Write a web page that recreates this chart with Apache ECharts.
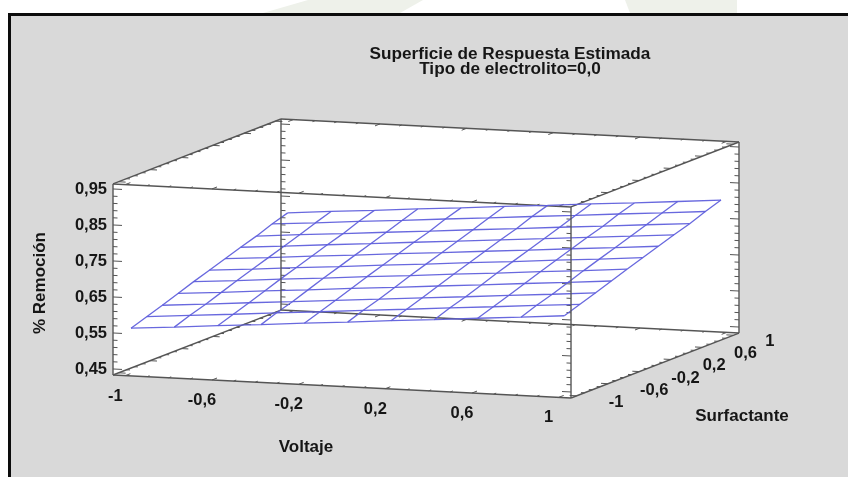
<!DOCTYPE html>
<html>
<head>
<meta charset="utf-8">
<style>html,body{margin:0;padding:0;background:#fff}#c{width:848px;height:477px}</style>
<script src="https://cdn.jsdelivr.net/npm/echarts@6/dist/echarts.min.js"></script>
</head>
<body>
<div id="c"></div>
<script>
// ---- data ----
const voltaje = [-1,-0.8,-0.6,-0.4,-0.2,0,0.2,0.4,0.6,0.8,1];
const surfactante = [-1,-0.8,-0.6,-0.4,-0.2,0,0.2,0.4,0.6,0.8,1];
// one row per surfactante value, one column per voltaje value
const remocion = [
  [.559,.568,.578,.587,.597,.606,.616,.625,.635,.644,.654],
  [.574,.584,.593,.603,.612,.622,.631,.641,.650,.660,.669],
  [.589,.598,.608,.617,.627,.636,.646,.655,.665,.674,.684],
  [.605,.614,.624,.633,.643,.652,.662,.671,.681,.690,.700],
  [.621,.630,.640,.649,.659,.668,.678,.687,.697,.706,.716],
  [.636,.645,.655,.664,.674,.683,.693,.702,.712,.721,.731],
  [.651,.660,.670,.679,.689,.698,.708,.717,.727,.736,.746],
  [.666,.675,.685,.694,.704,.713,.723,.732,.742,.751,.761],
  [.680,.690,.699,.709,.718,.728,.737,.747,.756,.766,.775],
  [.697,.706,.716,.725,.735,.744,.754,.763,.773,.782,.792],
  [.711,.721,.730,.740,.749,.759,.768,.778,.787,.797,.807]
];
const vTickLabels = ['-1','-0,6','-0,2','0,2','0,6','1'];
const vTickValues = [-1,-0.6,-0.2,0.2,0.6,1];
const sTickLabels = ['-1','-0,6','-0,2','0,2','0,6','1'];
const sTickValues = [-1,-0.6,-0.2,0.2,0.6,1];
const zTickLabels = ['0,45','0,55','0,65','0,75','0,85','0,95'];
const zTickValues = [0.45,0.55,0.65,0.75,0.85,0.95];
const vRange = [-1.057,1.057];
const sRange = [-1.072,1.072];
const zRange = [0.4333,0.9640];

// ---- oblique projection onto the library's 2D value axes ----
const SKEW_S = 78.35/216.65, DROP_V = 10.88/360, RISE_S = 30.3/360;
const proj = (v,s,z) => [v + SKEW_S*s, z - DROP_V*v + RISE_S*s];

const FONT = '"Liberation Sans", Arial, sans-serif';
const INK = '#161616', EDGE = '#555555', MESH = '#6060dc';
const [v0,v1] = vRange, [s0,s1] = sRange, [z0,z1] = zRange;
const seg = (a,b) => [...proj(...a),...proj(...b)];

function segSeries(segs,color,width,z){
  return {type:'custom',coordinateSystem:'cartesian2d',silent:true,animation:false,z,clip:false,
    encode:{x:[0,2],y:[1,3]},data:segs,
    renderItem:(p,api)=>{
      const a=api.coord([api.value(0),api.value(1)]),b=api.coord([api.value(2),api.value(3)]);
      return {type:'line',shape:{x1:a[0],y1:a[1],x2:b[0],y2:b[1]},style:{stroke:color,lineWidth:width}};
    }};
}
function wall(corners){
  return {type:'custom',coordinateSystem:'cartesian2d',silent:true,animation:false,z:1,clip:false,
    data:[[0,0]],
    renderItem:(p,api)=>({type:'polygon',shape:{points:corners.map(c=>api.coord(proj(...c)))},
      style:{fill:'#ffffff'}})};
}
function textSeries(items){
  return {type:'custom',coordinateSystem:'cartesian2d',silent:true,animation:false,z:6,clip:false,
    data:items.map(t=>[...t.at]),
    renderItem:(p,api)=>{
      const t=items[p.dataIndex],c=api.coord([api.value(0),api.value(1)]);
      return {type:'text',x:c[0]+t.dx,y:c[1]+t.dy,style:{text:t.text,fill:INK,
        font:'bold 16.5px '+FONT,textAlign:t.align,textVerticalAlign:'middle'}};
    }};
}

// box edges
const floorEdges = [
  seg([v0,s0,z0],[v1,s0,z0]), seg([v0,s1,z0],[v1,s1,z0]),
  seg([v0,s0,z0],[v0,s1,z0]), seg([v1,s0,z0],[v1,s1,z0]),
  seg([v0,s0,z1],[v1,s0,z1]), seg([v0,s1,z1],[v1,s1,z1]),
  seg([v0,s0,z1],[v0,s1,z1]), seg([v1,s0,z1],[v1,s1,z1])
];
const uprights = [
  seg([v0,s0,z0],[v0,s0,z1]), seg([v1,s0,z0],[v1,s0,z1]),
  seg([v0,s1,z0],[v0,s1,z1]), seg([v1,s1,z0],[v1,s1,z1])
];

// tick marks on every edge
const ticks = [];
for (let k=0;k<=25;k++){
  const z=0.45+k*0.02, major=k%5===0, dv=(major?9:4.5)/216.65;
  ticks.push(seg([v0,s0,z],[v0+dv,s0,z]), seg([v0,s1,z],[v0+dv,s1,z]),
             seg([v1,s0,z],[v1-dv,s0,z]), seg([v1,s1,z],[v1-dv,s1,z]));
}
for (let k=0;k<=20;k++){
  const t=-1+k*0.1, major=k%4===0;
  const ds=(major?5:2.5)/78.35, dvv=(major?7:3.5)/216.65;
  [z0,z1].forEach(z=>{
    ticks.push(seg([t,s0,z],[t,s0+ds,z]), seg([t,s1,z],[t,s1-ds,z]),
               seg([v0,t,z],[v0+dvv,t,z]), seg([v1,t,z],[v1-dvv,t,z]));
  });
}

// mesh
const meshSeries = [];
const meshLine = pts => ({type:'line',data:pts,showSymbol:false,silent:true,animation:false,z:4,clip:false,
  lineStyle:{color:MESH,width:1.3,opacity:0.95}});
surfactante.forEach((s,j)=>meshSeries.push(meshLine(voltaje.map((v,i)=>proj(v,s,remocion[j][i])))));
voltaje.forEach((v,i)=>meshSeries.push(meshLine(surfactante.map((s,j)=>proj(v,s,remocion[j][i])))));

// tick labels
const labels = [
  ...vTickValues.map((v,i)=>({text:vTickLabels[i],at:proj(v,s0,z0),dx:-10,dy:20.5,align:'center'})),
  ...sTickValues.map((s,i)=>({text:sTickLabels[i],at:proj(v1,s,z0),dx:32,dy:6.5,align:'left'})),
  ...zTickValues.map((z,i)=>({text:zTickLabels[i],at:proj(v0,s0,z),dx:-6,dy:0,align:'right'}))
];

const nameStyle = size => ({fill:INK,font:'bold '+size+'px '+FONT,textAlign:'center',textVerticalAlign:'middle'});
const axisNames = [
  {type:'text',x:306,y:447,style:{text:'Voltaje',...nameStyle(17)}},
  {type:'text',x:742,y:416,style:{text:'Surfactante',...nameStyle(17)}},
  {type:'text',x:40,y:283,rotation:Math.PI/2,style:{text:'% Remoción',...nameStyle(17)}},
  {type:'text',x:510,y:54,style:{text:'Superficie de Respuesta Estimada',...nameStyle(17.2)}},
  {type:'text',x:510,y:69,style:{text:'Tipo de electrolito=0,0',...nameStyle(17.2)}}
];

const chart = echarts.init(document.getElementById('c'),null,{renderer:'canvas'});
chart.setOption({
  animation:false,
  backgroundColor:'#ffffff',
  grid:{left:114,top:120,width:626,height:278,show:false},
  xAxis:{type:'value',show:false,min:(114-426)/216.65,max:(740-426)/216.65},
  yAxis:{type:'value',show:false,min:(510-398)/360,max:(510-120)/360},
  graphic:[
    {type:'polygon',silent:true,z:-1,shape:{points:[[263,13],[308,0],[423,0],[400,13]]},style:{fill:'#eef1ea'}},
    {type:'polygon',silent:true,z:-1,shape:{points:[[630,13],[625,0],[737,0],[737,13]]},style:{fill:'#eef1ea'}},
    {type:'rect',silent:true,z:-1,shape:{x:9.5,y:14.5,width:860,height:480},
      style:{fill:'#d9d9d9',stroke:'#0c0c0c',lineWidth:3}},
    ...axisNames.map(g=>({...g,z:10,silent:true}))
  ],
  series:[
    wall([[v0,s0,z0],[v0,s0,z1],[v0,s1,z1],[v1,s1,z1],[v1,s1,z0],[v1,s0,z0]]),
    segSeries(floorEdges,EDGE,1.4,2),
    segSeries(ticks,EDGE,1,2),
    ...meshSeries,
    segSeries(uprights,EDGE,1.4,5),
    textSeries(labels)
  ]
});
</script>
</body>
</html>
